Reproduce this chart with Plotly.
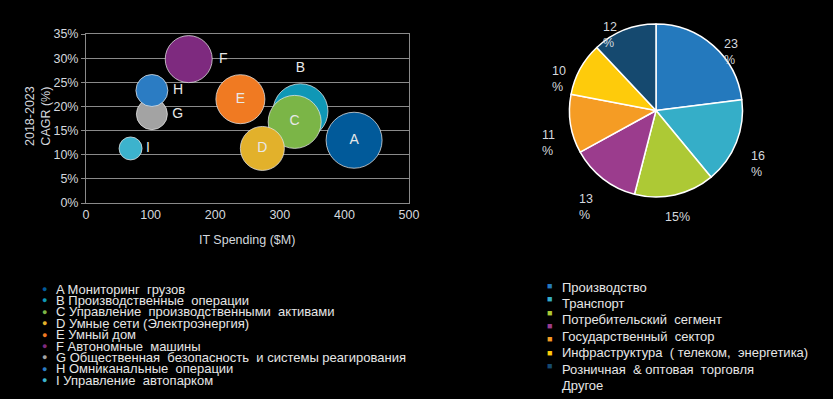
import math
import plotly.graph_objects as go

W, H = 833, 399

# ---- Bubble chart data ----
bubble_labels = ["A", "B", "C", "D", "E", "F", "G", "H", "I"]
it_spending = [415, 332, 323, 273, 239, 159, 102, 102, 69]
cagr = [13.0, 19.0, 16.8, 11.3, 21.5, 29.8, 18.4, 23.3, 11.3]
bubble_size = [56, 55, 53, 44, 49, 47, 31, 32, 23]
bubble_colors = ["#015a9a", "#0f97b6", "#7bb547", "#e2b12b", "#f07a22",
                 "#7e2a7f", "#a3a3a3", "#2b7cc3", "#3cb3cd"]
bubble_text_pos = ["middle center", "top center", "middle center", "middle center",
                   "middle center", "middle right", "middle right", "middle right",
                   "middle right"]
bubble_names = ["Мониторинг  грузов", "Производственные  операции",
                "Управление  производственными  активами",
                "Умные сети (Электроэнергия)", "Умный дом", "Автономные  машины",
                "Общественная  безопасность  и системы реагирования",
                "Омниканальные  операции", "Управление  автопарком"]
x_ticks = [0, 100, 200, 300, 400, 500]
y_ticks = [0, 5, 10, 15, 20, 25, 30, 35]

# ---- Pie data ----
pie_labels = ["Производство", "Транспорт", "Потребительский  сегмент",
              "Государственный  сектор", "Инфраструктура  ( телеком,  энергетика)",
              "Розничная  & оптовая  торговля", "Другое"]
pie_values = [23, 16, 15, 13, 11, 10, 12]
pie_colors = ["#2479bd", "#35aec8", "#adc935", "#9b3c8d", "#f59c24", "#fecb0b", "#15496f"]
pie_wrap = [True, True, False, True, True, True, True]

FONT = "Liberation Sans, Arial, sans-serif"
TXT = "#d4d8de"
GRID = "#8a8a8a"


def px_x(p):
    return p / W


def px_y(p):
    return 1 - p / H


fig = go.Figure()

fig.add_trace(go.Scatter(
    x=it_spending, y=cagr, mode="markers+text",
    text=bubble_labels, textposition=bubble_text_pos,
    textfont=dict(family=FONT, size=14, color="#e8e8e8"),
    marker=dict(size=bubble_size, sizemode="diameter", sizeref=1,
                color=bubble_colors, opacity=1,
                line=dict(color="rgba(230,230,230,0.75)", width=1)),
    showlegend=False, cliponaxis=False, hoverinfo="skip"))

cx, cy, r = 656, 110.5, 86.5
fig.add_trace(go.Pie(
    labels=pie_labels, values=pie_values, sort=False, direction="clockwise",
    textinfo="none",
    marker=dict(colors=pie_colors, line=dict(color="#ffffff", width=1.5)),
    domain=dict(x=[px_x(cx - r), px_x(cx + r)], y=[px_y(cy + r), px_y(cy - r)]),
    showlegend=False, hoverinfo="skip"))

fig.update_layout(
    width=W, height=H, paper_bgcolor="#000000", plot_bgcolor="#000000",
    margin=dict(l=0, r=0, t=0, b=0, autoexpand=False),
    font=dict(family=FONT, color=TXT, size=12),
    xaxis=dict(domain=[px_x(86), px_x(409)], range=[0, 500], tickvals=x_ticks,
               automargin=False,
               showgrid=False, zeroline=False, showline=True, linecolor=GRID,
               mirror=True, linewidth=1, ticks="", tickfont=dict(size=12.5, color=TXT)),
    yaxis=dict(domain=[px_y(203), px_y(34)], range=[0, 35], tickvals=y_ticks,
               ticktext=[f"{v}%" for v in y_ticks], automargin=False,
               showgrid=True, gridcolor=GRID, gridwidth=1, zeroline=False,
               showline=True, linecolor=GRID, mirror=True, linewidth=1,
               ticks="outside", ticklen=4, tickcolor=GRID,
               tickfont=dict(size=12.5, color=TXT)),
)

annotations = []
# axis titles
annotations.append(dict(x=px_x(247), y=px_y(240), xref="paper", yref="paper",
                        xanchor="center", yanchor="middle", showarrow=False,
                        text="IT Spending ($M)", font=dict(family=FONT, size=12.5, color=TXT)))
annotations.append(dict(x=px_x(38), y=px_y(116), xref="paper", yref="paper",
                        xanchor="center", yanchor="middle", showarrow=False, textangle=-90,
                        text="2018-2023<br>CAGR (%)", font=dict(family=FONT, size=12.5, color=TXT)))

# pie value labels ("outside end"), positioned from each slice's mid angle
total = sum(pie_values)
cum = 0
for v, wrap in zip(pie_values, pie_wrap):
    mid = (cum + v / 2) / total * 2 * math.pi
    cum += v
    D = 100
    ax = cx + D * math.sin(mid)
    ay = cy - D * math.cos(mid)
    s = math.sin(mid)
    xa = "center" if abs(s) < 0.3 else ("left" if s > 0 else "right")
    annotations.append(dict(x=px_x(ax), y=px_y(ay), xref="paper", yref="paper",
                            xanchor=xa, yanchor="top", align="left", showarrow=False,
                            text=f"{v}<br>%" if wrap else f"{v}%",
                            font=dict(family=FONT, size=12.5, color=TXT)))

# bubble legend
for i, (lab, name, col) in enumerate(zip(bubble_labels, bubble_names, bubble_colors)):
    y = 289 + i * 11.4
    annotations.append(dict(x=px_x(44), y=px_y(y), xref="paper", yref="paper",
                            xanchor="center", yanchor="middle", showarrow=False,
                            text="●", font=dict(family=FONT, size=9, color=col)))
    annotations.append(dict(x=px_x(54), y=px_y(y), xref="paper", yref="paper",
                            xanchor="left", yanchor="middle", showarrow=False,
                            text=f"{lab} {name}".replace("  ", " \u00a0"),
                            font=dict(family=FONT, size=13, color="#e6e6e6")))
# pie legend
for i, col in enumerate(pie_colors):
    y = 286 + i * 13.3
    annotations.append(dict(x=px_x(545), y=px_y(y), xref="paper", yref="paper",
                            xanchor="left", yanchor="middle", showarrow=False,
                            text="■", font=dict(family=FONT, size=9, color=col)))
for i, name in enumerate(pie_labels):
    y = 287 + i * 16.4
    annotations.append(dict(x=px_x(560), y=px_y(y), xref="paper", yref="paper",
                            xanchor="left", yanchor="middle", showarrow=False,
                            text=name.replace("  ", " \u00a0"),
                            font=dict(family=FONT, size=13, color="#e6e6e6")))
fig.update_layout(annotations=annotations)

fig.write_html("out.html", config={"displayModeBar": False},
               post_script="document.body.style.margin='0';document.body.style.background='#000';")
